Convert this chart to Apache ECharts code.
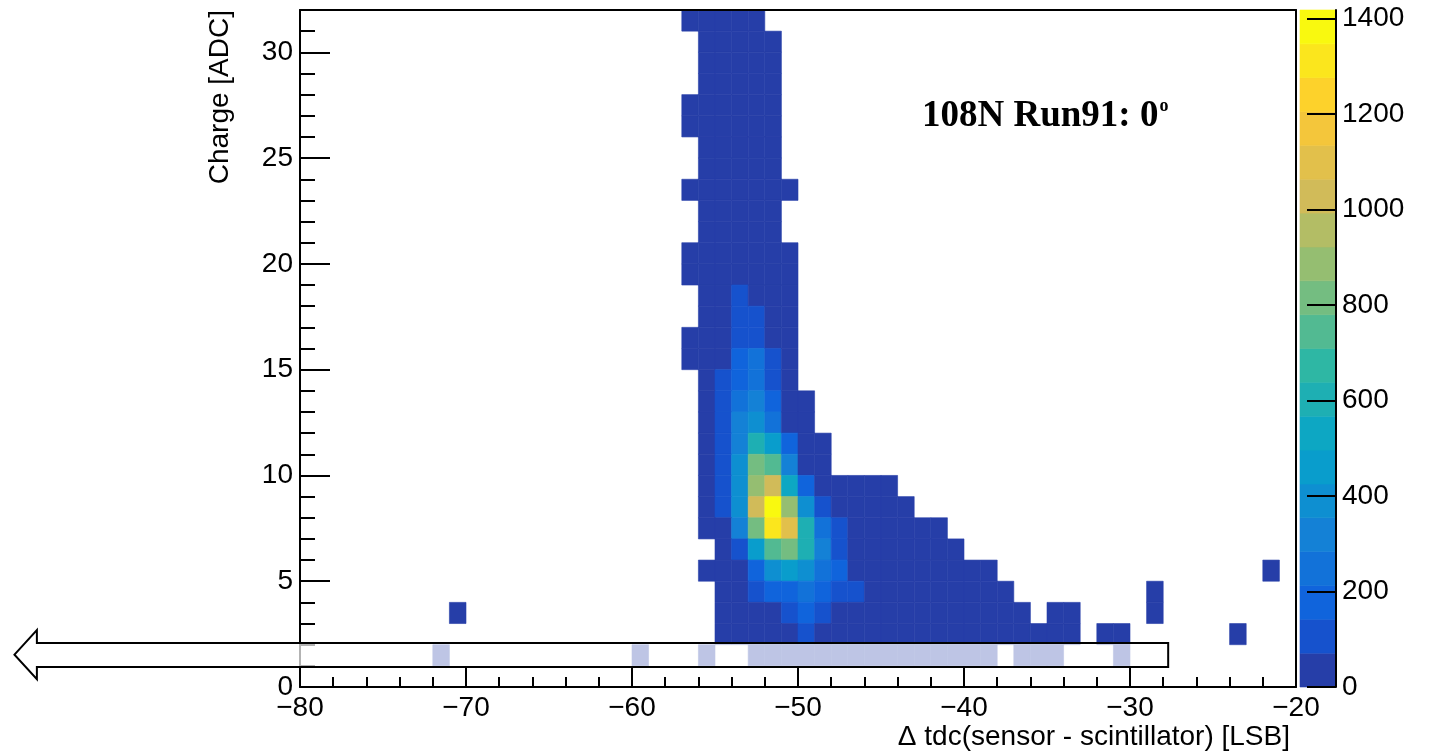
<!DOCTYPE html>
<html>
<head>
<meta charset="utf-8">
<script src="https://cdn.jsdelivr.net/npm/echarts@6/dist/echarts.min.js"></script>
<style>html,body{margin:0;padding:0;background:#fff}#c{width:1436px;height:752px}</style>
</head>
<body>
<div id="c"></div>
<script>
// ---------- axis ranges and tick labels ----------
const X_MIN = -80, X_MAX = -20;
const Y_MIN = 0, Y_MAX = 32;
const Z_MAX = 1418;             // histogram maximum (top of the palette)
const N_CONTOURS = 20;
const X_TICKS = [-80, -70, -60, -50, -40, -30, -20];
const Y_TICKS = [0, 5, 10, 15, 20, 25, 30];
const Z_TICKS = [0, 200, 400, 600, 800, 1000, 1200, 1400];

const X_TITLE = '\u0394 tdc(sensor - scintillator) [LSB]';
const Y_TITLE = 'Charge [ADC]';
const LABEL_MAIN = '108N Run91: 0';
const LABEL_SUP = 'o';

// ---------- bin contents: [y bin, first x bin, counts of consecutive x bins] ----------
const row31 = [31, -57, [12, 18, 22, 20, 9]];
const row30 = [30, -56, [14, 24, 28, 22, 11]];
const row29 = [29, -56, [15, 26, 31, 25, 12]];
const row28 = [28, -56, [17, 28, 33, 27, 13]];
const row27 = [27, -57, [8, 19, 30, 36, 29, 14]];
const row26 = [26, -57, [9, 21, 33, 39, 31, 15]];
const row25 = [25, -56, [23, 36, 42, 34, 16]];
const row24 = [24, -56, [25, 39, 46, 37, 18]];
const row23 = [23, -57, [10, 27, 42, 50, 40, 20, 8]];
const row22 = [22, -56, [29, 46, 55, 44, 22]];
const row21 = [21, -56, [32, 50, 60, 48, 24]];
const row20 = [20, -57, [11, 35, 55, 65, 52, 27, 9]];
const row19 = [19, -57, [12, 38, 60, 69, 57, 30, 10]];
const row18 = [18, -56, [41, 66, 78, 63, 33, 11]];
const row17 = [17, -56, [48, 62, 98, 84, 58, 13]];
const row16 = [16, -57, [10, 52, 66, 115, 96, 64, 15]];
const row15 = [15, -57, [11, 55, 69, 170, 240, 120, 18]];
const row14 = [14, -56, [58, 110, 190, 260, 125, 22]];
const row13 = [13, -56, [60, 118, 270, 320, 200, 45, 8]];
const row12 = [12, -56, [62, 125, 330, 390, 240, 52, 10]];
const row11 = [11, -56, [64, 130, 320, 600, 470, 190, 55, 12]];
const row10 = [10, -56, [66, 135, 400, 820, 750, 310, 60, 14]];
const row09 = [9, -56, [65, 130, 395, 890, 1040, 520, 175, 58, 40, 28, 18, 9]];
const row08 = [8, -56, [60, 125, 380, 1030, 1418, 880, 385, 115, 50, 36, 26, 15, 8]];
const row07 = [7, -56, [55, 68, 320, 800, 1320, 1100, 600, 250, 110, 52, 40, 28, 20, 12, 6]];
const row06 = [6, -55, [50, 120, 460, 745, 815, 600, 320, 105, 48, 36, 26, 19, 13, 8, 5]];
const row05 = [5, -56, [30, 62, 65, 180, 390, 460, 380, 250, 170, 55, 42, 33, 25, 18, 13, 9, 6, 4]];
const row04 = [4, -55, [45, 60, 120, 175, 190, 230, 180, 115, 90, 60, 46, 35, 27, 20, 14, 10, 7, 4]];
const row03 = [3, -55, [35, 50, 62, 66, 100, 160, 95, 58, 48, 40, 32, 25, 19, 14, 11, 8, 6, 4, 3]];
const row02 = [2, -55, [28, 40, 52, 60, 66, 100, 62, 50, 42, 35, 28, 22, 17, 13, 10, 8, 6, 5, 4, 3, 3, 2]];
const row01 = [1, -53, [20, 35, 45, 50, 48, 40, 32, 25, 20, 15, 11, 8, 6, 4, 3]];
// single scattered bins: [x bin, y bin, count]
const isolatedBins = [
  [-22, 5, 2], [-29, 4, 2], [-35, 3, 2], [-34, 3, 2], [-29, 3, 1], [-71, 3, 1],
  [-32, 2, 2], [-31, 2, 2], [-24, 2, 1],
  [-72, 1, 1], [-60, 1, 1], [-56, 1, 2], [-37, 1, 2], [-36, 1, 2], [-35, 1, 1], [-31, 1, 1]
];

// annotation arrow outline in data coordinates (drawn over row 1)
const ARROW_OUTLINE = [[-97.2, 1.53], [-95.85, 2.69], [-95.85, 2.08], [-27.7, 2.08],
                       [-27.7, 0.95], [-95.85, 0.95], [-95.85, 0.37]];

// ---------- ROOT kBird palette ----------
const BIRD_STOPS = [0, 0.125, 0.25, 0.375, 0.5, 0.625, 0.75, 0.875, 1];
const BIRD_R = [0.2082, 0.0592, 0.0780, 0.0232, 0.1802, 0.5301, 0.8186, 0.9956, 0.9764];
const BIRD_G = [0.1664, 0.3599, 0.5041, 0.6419, 0.7178, 0.7492, 0.7328, 0.7862, 0.9832];
const BIRD_B = [0.5293, 0.8684, 0.8385, 0.7914, 0.6425, 0.4662, 0.3499, 0.1968, 0.0539];

function birdTable(n) {
  const t = [];
  for (let g = 1; g < BIRD_STOPS.length; g++) {
    const nc = Math.floor(n * BIRD_STOPS[g]) - Math.floor(n * BIRD_STOPS[g - 1]);
    for (let c = 0; c < nc; c++) {
      const f = c / nc;
      const r = BIRD_R[g - 1] + f * (BIRD_R[g] - BIRD_R[g - 1]);
      const gg = BIRD_G[g - 1] + f * (BIRD_G[g] - BIRD_G[g - 1]);
      const b = BIRD_B[g - 1] + f * (BIRD_B[g] - BIRD_B[g - 1]);
      t.push('rgb(' + Math.round(r * 255) + ',' + Math.round(gg * 255) + ',' + Math.round(b * 255) + ')');
    }
  }
  return t;
}
const TABLE = birdTable(255);
const STEP = Z_MAX / N_CONTOURS;
const pieces = [];
for (let i = 0; i < N_CONTOURS; i++) {
  const k = Math.min(TABLE.length - 1, Math.floor((i + 0.99) * TABLE.length / N_CONTOURS));
  const p = { gte: i * STEP, color: TABLE[k] };
  if (i === N_CONTOURS - 1) p.lte = Z_MAX + 1; else p.lt = (i + 1) * STEP;
  pieces.push(p);
}

// ---------- build series data ----------
const rows = [row31, row30, row29, row28, row27, row26, row25, row24, row23, row22, row21, row20,
  row19, row18, row17, row16, row15, row14, row13, row12, row11, row10, row09, row08, row07,
  row06, row05, row04, row03, row02, row01];
const cells = [];
rows.forEach(([y, x0, counts]) => counts.forEach((v, j) => { if (v > 0) cells.push([x0 + j, y, v]); }));
isolatedBins.forEach(b => cells.push(b.slice()));

const barData = [];
for (let i = 0; i < N_CONTOURS; i++) barData.push([0, i * STEP, (i + 0.5) * STEP, (i + 1) * STEP]);

const fmt = v => (v < 0 ? '\u2212' + Math.abs(v) : String(v));
const FONT = '"Liberation Sans", Arial, Helvetica, sans-serif';
const SERIF = '"Liberation Serif", "Times New Roman", serif';
const LINE = { color: '#000', width: 2 };

const chart = echarts.init(document.getElementById('c'), null, { renderer: 'canvas' });

const option = {
  animation: false,
  backgroundColor: '#fff',
  grid: [
    { left: 300, right: 140, top: 10, bottom: 65 },
    { left: 1300, width: 36, top: 10, bottom: 65 }
  ],
  visualMap: {
    type: 'piecewise', show: false, dimension: 2, seriesIndex: [0, 1], pieces: pieces
  },
  xAxis: [
    { type: 'value', gridIndex: 0, min: X_MIN, max: X_MAX, interval: 10, z: 10,
      axisLine: { show: true, onZero: false, lineStyle: LINE },
      axisTick: { show: true, inside: true, length: 20, lineStyle: LINE },
      minorTick: { show: true, splitNumber: 5, length: 10, lineStyle: LINE },
      splitLine: { show: false }, minorSplitLine: { show: false },
      axisLabel: { margin: 7, fontSize: 28, fontFamily: FONT, color: '#000',
        formatter: v => (X_TICKS.includes(v) ? fmt(v) : '') } },
    { type: 'value', gridIndex: 0, position: 'top', min: X_MIN, max: X_MAX, z: 10,
      axisLine: { show: true, onZero: false, lineStyle: LINE },
      axisTick: { show: false }, axisLabel: { show: false }, splitLine: { show: false } },
    { type: 'value', gridIndex: 1, min: 0, max: 1, show: false }
  ],
  yAxis: [
    { type: 'value', gridIndex: 0, min: Y_MIN, max: Y_MAX, interval: 1, z: 10,
      axisLine: { show: true, onZero: false, lineStyle: LINE },
      axisTick: { show: true, inside: true, length: 15, lineStyle: LINE },
      splitLine: { show: false },
      axisLabel: { margin: 7, fontSize: 28, fontFamily: FONT, color: '#000',
        formatter: v => (Y_TICKS.includes(v) ? fmt(v) : '') } },
    { type: 'value', gridIndex: 0, position: 'left', min: Y_MIN, max: Y_MAX, z: 10,
      axisLine: { show: false, onZero: false },
      axisTick: { show: true, inside: true, length: 30, lineStyle: LINE, customValues: Y_TICKS },
      axisLabel: { show: false }, splitLine: { show: false } },
    { type: 'value', gridIndex: 0, position: 'right', min: Y_MIN, max: Y_MAX, z: 10,
      axisLine: { show: true, onZero: false, lineStyle: LINE },
      axisTick: { show: false }, axisLabel: { show: false }, splitLine: { show: false } },
    { type: 'value', gridIndex: 1, position: 'right', min: 0, max: Z_MAX, z: 10,
      axisLine: { show: true, onZero: false, lineStyle: LINE },
      axisTick: { show: true, inside: true, length: 29, lineStyle: LINE, customValues: Z_TICKS },
      axisLabel: { margin: 6, fontSize: 28, fontFamily: FONT, color: '#000', customValues: Z_TICKS,
        formatter: v => String(v) },
      splitLine: { show: false } }
  ],
  series: [
    { type: 'custom', name: 'hist', coordinateSystem: 'cartesian2d', xAxisIndex: 0, yAxisIndex: 0,
      data: cells, encode: { x: 0, y: 1 }, z: 2,
      renderItem: (params, api) => {
        const x = api.value(0), y = api.value(1);
        const p0 = api.coord([x, y + 1]);
        const p1 = api.coord([x + 1, y]);
        const c = api.visual('color');
        return { type: 'rect',
          shape: { x: p0[0], y: p0[1], width: p1[0] - p0[0], height: p1[1] - p0[1] },
          style: { fill: c, stroke: c, lineWidth: 0.6 } };
      } },
    { type: 'custom', name: 'palette', coordinateSystem: 'cartesian2d', xAxisIndex: 2, yAxisIndex: 3,
      data: barData, encode: { x: 0, y: 1 }, z: 2,
      renderItem: (params, api) => {
        const p0 = api.coord([0, api.value(3)]);
        const p1 = api.coord([1, api.value(1)]);
        const c = api.visual('color');
        return { type: 'rect',
          shape: { x: p0[0], y: p0[1], width: p1[0] - p0[0], height: p1[1] - p0[1] },
          style: { fill: c, stroke: c, lineWidth: 0.6 } };
      } }
  ],
  graphic: [
    { type: 'text', id: 'xtitle', x: 1290, y: 737, z: 50,
      style: { text: X_TITLE, fontSize: 28, fontFamily: FONT, fill: '#000', align: 'right', verticalAlign: 'middle' } },
    { type: 'text', id: 'ytitle', x: 220, y: 10, rotation: Math.PI / 2, z: 50,
      style: { text: Y_TITLE, fontSize: 28, fontFamily: FONT, fill: '#000', align: 'right', verticalAlign: 'middle' } },
    { type: 'text', id: 'runlabel', x: 922, y: 116, z: 50,
      style: { text: '{m|' + LABEL_MAIN + '}{s|' + LABEL_SUP + '}', align: 'left', verticalAlign: 'middle',
        rich: {
          m: { fontSize: 37, fontWeight: 'bold', fontFamily: SERIF, fill: '#000', color: '#000' },
          s: { fontSize: 18, fontWeight: 'bold', fontFamily: SERIF, fill: '#000', color: '#000', verticalAlign: 'top', padding: [0, 0, 0, 1] }
        } } }
  ]
};
chart.setOption(option);

const arrowPts = ARROW_OUTLINE.map(p => chart.convertToPixel({ xAxisIndex: 0, yAxisIndex: 0 }, p));
chart.setOption({
  graphic: [{ type: 'polygon', id: 'arrow', z: 100,
    shape: { points: arrowPts },
    style: { fill: 'rgba(255,255,255,0.7)', stroke: '#000', lineWidth: 2 } }]
});
</script>
</body>
</html>
